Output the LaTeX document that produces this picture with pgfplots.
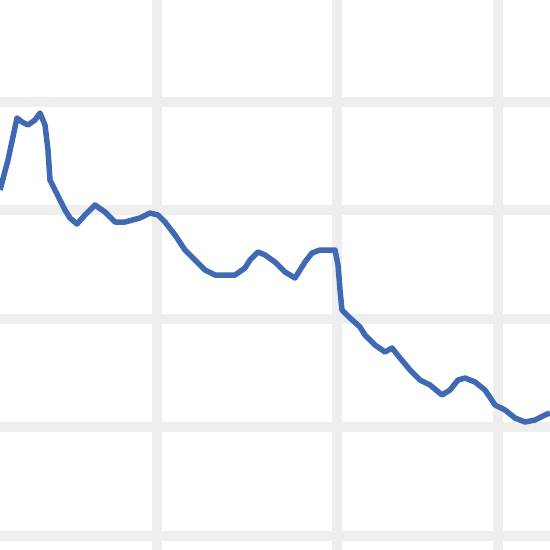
\documentclass[border=0pt]{standalone}
\usepackage{pgfplots}
\pgfplotsset{compat=1.18}
\definecolor{lineblue}{HTML}{4069B4}
\definecolor{gridgray}{HTML}{EEEEEE}
\begin{document}
\begin{tikzpicture}
\begin{axis}[
  width=550bp, height=550bp, scale only axis,
  xmin=0, xmax=550, ymin=0, ymax=550, y dir=reverse,
  xtick={157,337,498}, ytick={102,210,319,427,536},
  xticklabels={}, yticklabels={},
  grid=major, major grid style={gridgray, line width=10bp},
  axis line style={draw=none}, tick style={draw=none},
  clip=true,
]
\addplot[lineblue, line width=5.5bp, line join=round] coordinates {
(0,190) (8,160) (17,118) (22,122) (28,125) (35,120) (40,113) (45,125)
(48,150) (50,180) (55,190) (60,200) (65,210) (70,218) (77,224) (85,215)
(95,205) (105,212) (115,222) (125,222) (140,218) (150,213) (158,215)
(165,222) (175,235) (185,250) (195,260) (205,270) (215,275) (235,275)
(245,268) (250,260) (258,252) (265,255) (275,262) (285,272) (295,278)
(300,270) (305,262) (312,253) (320,250) (330,250) (335,250) (338,265)
(340,290) (342,310) (350,318) (360,327) (365,335) (375,345) (385,352)
(392,348) (400,358) (410,370) (420,380) (430,385) (442,395) (450,390)
(458,380) (465,378) (475,382) (485,390) (495,405) (505,410) (515,418)
(525,422) (535,420) (545,415) (550,413)
};
\end{axis}
\pgfresetboundingbox
\useasboundingbox (current axis.south west) rectangle (current axis.north east);
\end{tikzpicture}
\end{document}
